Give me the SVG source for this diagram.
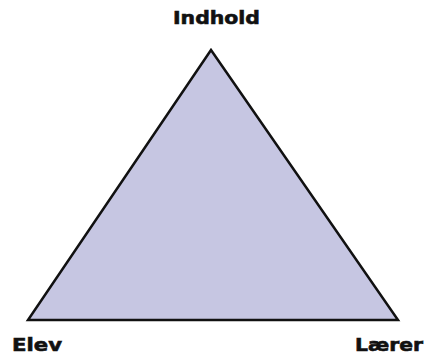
<svg xmlns="http://www.w3.org/2000/svg" width="426" height="359" viewBox="0 0 426 359">
<style>
.lbl{font-family:"DejaVu Sans","Liberation Sans",sans-serif;font-weight:bold;font-size:18px;fill:#111;stroke:#111;stroke-width:0.6;}
</style>
<rect width="426" height="359" fill="#fff"/>
<g id="triangle">
<polygon points="211,50 28,320 398,320" fill="#c6c6e2" stroke="#111" stroke-width="2.5" stroke-linejoin="miter"/>
</g>
<g id="indhold"><text class="lbl" x="173" y="24" textLength="87" lengthAdjust="spacingAndGlyphs">Indhold</text></g>
<g id="elev"><text class="lbl" x="12" y="351" textLength="50" lengthAdjust="spacingAndGlyphs">Elev</text></g>
<g id="laerer"><text class="lbl" x="355" y="351" textLength="68" lengthAdjust="spacingAndGlyphs">Lærer</text></g>
</svg>
